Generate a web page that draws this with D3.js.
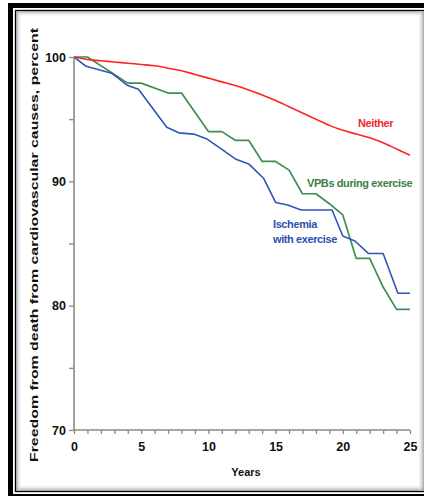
<!DOCTYPE html>
<html>
<head>
<meta charset="utf-8">
<script src="https://cdn.jsdelivr.net/npm/d3@7"></script>
<style>
  html, body { margin: 0; padding: 0; background: #ffffff; }
  svg { display: block; }
  text { font-family: "Liberation Sans", Arial, sans-serif; font-weight: bold; }
</style>
</head>
<body>
<script>
// ---- data ----
const neitherYears = [0,1,2,3,4,5,6,7,8,9,10,11,12,13,14,15,16,17,18,19,20,21,22,23,24,25];
const neitherVals  = [100,99.8,99.7,99.6,99.5,99.4,99.3,99.1,98.9,98.6,98.3,98.0,97.7,97.35,96.95,96.5,96.0,95.5,95.0,94.5,94.1,93.8,93.5,93.1,92.6,92.1];

const vpbYears = [0,1,4,5,7,8,10,11,12,13,14,15,16,17,18,19,20,21,22,23,24,25];
const vpbVals  = [100,100,97.9,97.9,97.1,97.1,94.0,94.0,93.3,93.3,91.6,91.6,90.9,89.0,89.0,88.2,87.3,83.8,83.8,81.5,79.7,79.7];

const ischYears = [0,0.9,2.8,4,4.8,6.9,7.8,8.9,9.9,10.9,12,13,14.1,15,15.9,16.9,19.2,20,20.9,21.9,23,24.1,25];
const ischVals  = [100,99.25,98.7,97.7,97.4,94.35,93.9,93.8,93.4,92.65,91.8,91.4,90.25,88.3,88.1,87.7,87.7,85.6,85.2,84.2,84.2,81.0,81.0];

const yTicks = [70,75,80,85,90,95,100];
const yLabels = [70,80,90,100];
const xTicks = d3.range(0, 26, 1);
const xLabels = [0,5,10,15,20,25];

const seriesLabels = [
  {lines: ["Neither"], color: "#ee2a2e", x: 358, y: 127},
  {lines: ["VPBs during exercise"], color: "#3b7f45", x: 307, y: 187},
  {lines: ["Ischemia", "with exercise"], color: "#2d4fae", x: 273, y: 228}
];

// ---- drawing ----
const W = 424, H = 496;
const svg = d3.select("body").append("svg").attr("width", W).attr("height", H);

// frame with inset shadow
const defs = svg.append("defs");
function grad(id, x1, y1, x2, y2) {
  const g = defs.append("linearGradient").attr("id", id)
    .attr("x1", x1).attr("y1", y1).attr("x2", x2).attr("y2", y2);
  g.append("stop").attr("offset", "0%").attr("stop-color", "#9a9a9a").attr("stop-opacity", 0.9);
  g.append("stop").attr("offset", "100%").attr("stop-color", "#ffffff").attr("stop-opacity", 0);
}
grad("gTop", 0, 0, 0, 1);
grad("gBot", 0, 1, 0, 0);
grad("gLeft", 0, 0, 1, 0);
grad("gRight", 1, 0, 0, 0);

svg.append("rect").attr("x", 0).attr("y", 0).attr("width", W).attr("height", H).attr("fill", "#fff");
// outer thick border
svg.append("rect").attr("x", 10.5).attr("y", 5.5).attr("width", 420).attr("height", 491)
  .attr("fill", "none").attr("stroke", "#000").attr("stroke-width", 5);
// inner thin border
svg.append("rect").attr("x", 15.5).attr("y", 10.5).attr("width", 412).attr("height", 481)
  .attr("fill", "#fff").attr("stroke", "#000").attr("stroke-width", 1.3);
// inset shadows
svg.append("rect").attr("x", 16).attr("y", 11).attr("width", 408).attr("height", 6).attr("fill", "url(#gTop)");
svg.append("rect").attr("x", 16).attr("y", 484).attr("width", 408).attr("height", 7).attr("fill", "url(#gBot)");
svg.append("rect").attr("x", 16).attr("y", 11).attr("width", 6).attr("height", 480).attr("fill", "url(#gLeft)");
svg.append("rect").attr("x", 417).attr("y", 11).attr("width", 7).attr("height", 480).attr("fill", "url(#gRight)");

const x = d3.scaleLinear().domain([0, 25]).range([74, 410]);
const y = d3.scaleLinear().domain([70, 100]).range([430, 57]);

const axisColor = "#8a8a8a";

// y axis
const yAxis = svg.append("g").attr("transform", "translate(74,0)")
  .call(d3.axisLeft(y).tickValues(yTicks).tickSize(5).tickPadding(3)
    .tickFormat(d => yLabels.includes(d) ? d : ""));
// x axis
const xAxis = svg.append("g").attr("transform", "translate(0,430)")
  .call(d3.axisBottom(x).tickValues(xTicks).tickSize(4).tickPadding(8)
    .tickFormat(d => xLabels.includes(d) ? d : ""));

[yAxis, xAxis].forEach(a => {
  a.select(".domain").attr("stroke", axisColor).attr("stroke-width", 1.6);
  a.selectAll(".tick line").attr("stroke", axisColor).attr("stroke-width", 1.3);
  a.selectAll(".tick text").attr("fill", "#111").attr("font-size", 12.5)
    .attr("font-family", "'Liberation Sans', Arial, sans-serif").attr("font-weight", "bold");
});
yAxis.select(".domain").attr("d", "M0,57V430");
xAxis.select(".domain").attr("d", "M74,0H410");

// axis titles
svg.append("text").attr("x", 246).attr("y", 476).attr("text-anchor", "middle")
  .attr("font-size", 11).attr("fill", "#111")
  .text("Years");
svg.append("text").attr("transform", "translate(38,245) rotate(-90)")
  .attr("text-anchor", "middle").attr("font-size", 10.5).attr("fill", "#111")
  .attr("font-family", "'DejaVu Sans', Verdana, sans-serif")
  .attr("textLength", 434).attr("lengthAdjust", "spacingAndGlyphs")
  .text("Freedom from death from cardiovascular causes, percent");

// lines
const line = d3.line().x(d => x(d[0])).y(d => y(d[1]));
const smooth = d3.line().x(d => x(d[0])).y(d => y(d[1])).curve(d3.curveMonotoneX);

svg.append("path").datum(d3.zip(vpbYears, vpbVals)).attr("d", line)
  .attr("fill", "none").attr("stroke", "#3e8f52").attr("stroke-width", 1.7).attr("stroke-linejoin", "round");
svg.append("path").datum(d3.zip(ischYears, ischVals)).attr("d", line)
  .attr("fill", "none").attr("stroke", "#2f55b8").attr("stroke-width", 1.6).attr("stroke-linejoin", "round");
svg.append("path").datum(d3.zip(neitherYears, neitherVals)).attr("d", smooth)
  .attr("fill", "none").attr("stroke", "#ff2424").attr("stroke-width", 1.6);

// series labels
seriesLabels.forEach(s => {
  s.lines.forEach((t, i) => {
    svg.append("text").attr("x", s.x).attr("y", s.y + i * 15)
      .attr("font-size", 11).attr("fill", s.color)
      .attr("letter-spacing", -0.4)
      .text(t);
  });
});
</script>
</body>
</html>
